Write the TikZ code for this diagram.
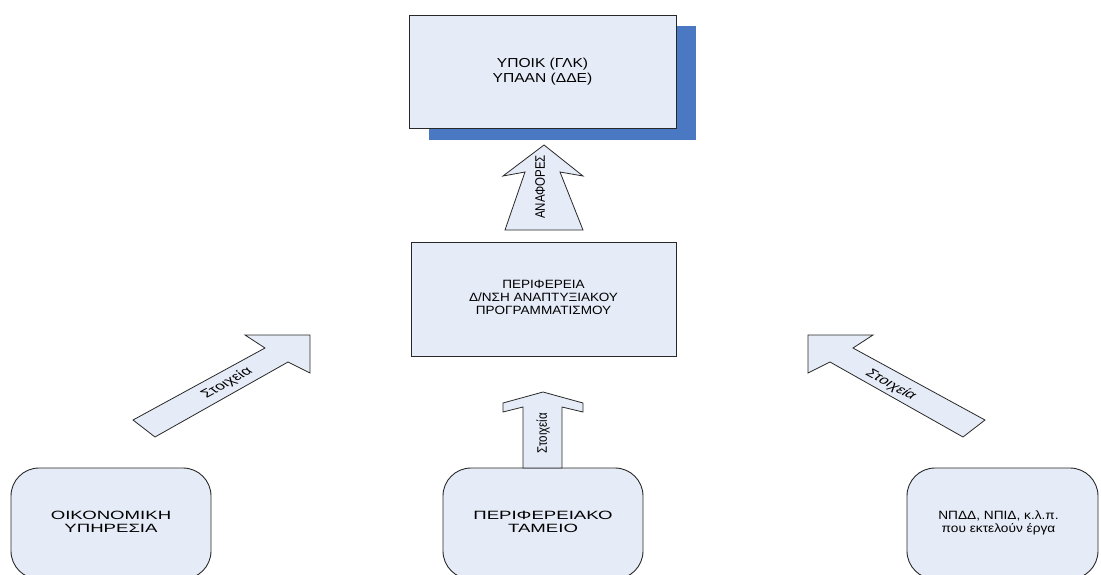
\documentclass[tikz,border=0pt]{standalone}
\usepackage{fontspec}
\setmainfont{Liberation Sans}
\definecolor{boxfill}{RGB}{230,236,247}
\definecolor{shadowblue}{RGB}{74,120,194}
\definecolor{edge}{RGB}{40,40,40}
\newcommand{\boxtext}[2]{\scalebox{#1}[1]{\begin{tabular}{@{}c@{}}#2\end{tabular}}}
\begin{document}
\begin{tikzpicture}[x=1pt,y=-1pt,
  box/.style={draw=edge, fill=boxfill, line width=0.9pt, inner sep=0pt,
    font=\fontsize{12}{13}\selectfont},
  rbox/.style={box, rounded corners=28pt, minimum width=200pt, minimum height=111pt,
    font=\fontsize{12}{12.5}\selectfont},
  blockarrow/.style={draw=edge, fill=boxfill, line width=0.8pt, line join=miter},
  lbl/.style={inner sep=0pt, font=\fontsize{11.5}{12.5}\selectfont}]
\useasboundingbox (0,0) rectangle (1101,574);
\clip (0,0) rectangle (1101,574);
% shadow of top box
\fill[shadowblue] (429,26) rectangle (696,140);
% boxes
\node[box, minimum width=267pt, minimum height=113pt,
  font=\fontsize{13}{15}\selectfont] (top) at (542.5,71.5)
  {\boxtext{1.2}{ΥΠΟΙΚ (ΓΛΚ)\\ΥΠΑΑΝ (ΔΔΕ)}};
\node[box, minimum width=265pt, minimum height=114pt] (mid) at (543.5,299)
  {\boxtext{1.13}{ΠΕΡΙΦΕΡΕΙΑ\\Δ/ΝΣΗ ΑΝΑΠΤΥΞΙΑΚΟΥ\\ΠΡΟΓΡΑΜΜΑΤΙΣΜΟΥ}};
\node[rbox] (oik) at (111,523.5) {\boxtext{1.55}{ΟΙΚΟΝΟΜΙΚΗ\\ΥΠΗΡΕΣΙΑ}};
\node[rbox] (tam) at (543,523.5) {\boxtext{1.55}{ΠΕΡΙΦΕΡΕΙΑΚΟ\\ΤΑΜΕΙΟ}};
\node[rbox, minimum width=191pt] (npdd) at (1002.5,523.5)
  {\hspace*{-8pt}\boxtext{1.14}{ΝΠΔΔ, ΝΠΙΔ, κ.λ.π.\\που εκτελούν έργα}};
% block arrows
\draw[blockarrow] (544,145) -- (583,176) -- (560,172) -- (583,230) -- (505,230)
  -- (525,172) -- (503,176) -- cycle;
\draw[blockarrow] (543,392) -- (583,403) -- (583,412) -- (562,407) -- (562,468)
  -- (523,468) -- (523,407) -- (503,412) -- (503,403) -- cycle;
\draw[blockarrow] (133,420) -- (265,348) -- (245,335) -- (310,335) -- (310,373)
  -- (288,362) -- (155,437) -- cycle;
\draw[blockarrow] (985,420) -- (853,348) -- (873,335) -- (808,335) -- (808,373)
  -- (830,362) -- (963,437) -- cycle;
% arrow labels
\node[lbl] (anaf) at (540,187) {\scalebox{1.2}[1]{\rotatebox{90}{ΑΝΑΦΟΡΕΣ}}};
\node[lbl] (st2) at (543,433) {\scalebox{1.2}[1]{\rotatebox{90}{Στοιχεία}}};
\node[lbl] (st1) at (227,383) {\scalebox{1.5}[1]{\rotatebox{39.3}{Στοιχεία}}};
\node[lbl] (st3) at (891,385) {\scalebox{1.5}[1]{\rotatebox{-39.3}{Στοιχεία}}};
\end{tikzpicture}
\end{document}
